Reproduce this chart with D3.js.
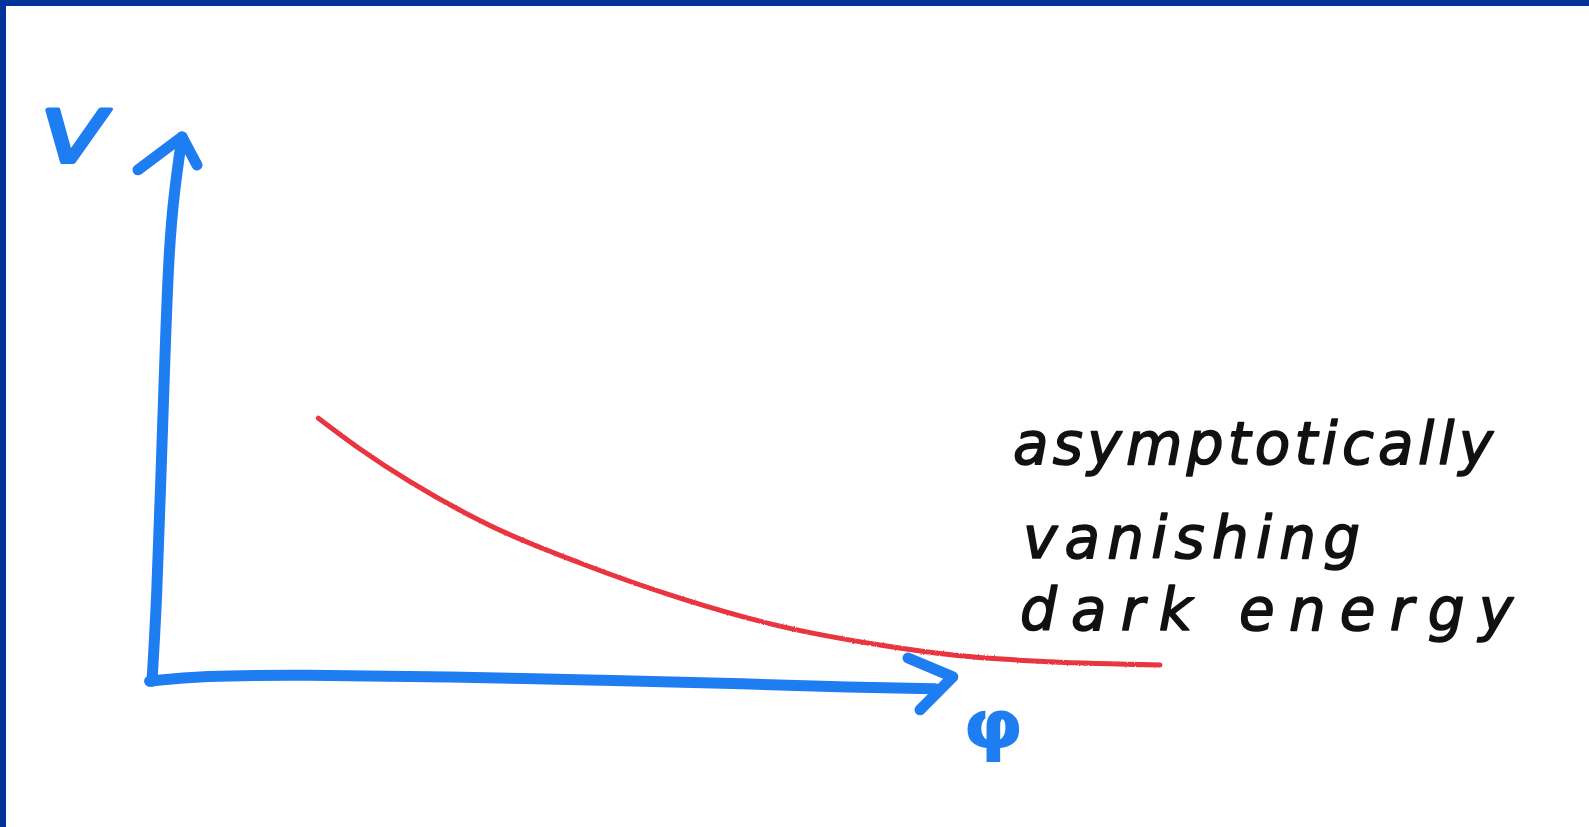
<!DOCTYPE html>
<html>
<head>
<meta charset="utf-8">
<script src="https://cdn.jsdelivr.net/npm/d3@7"></script>
<style>
  html, body { margin: 0; padding: 0; background: #ffffff; overflow: hidden; }
  svg { display: block; }
</style>
</head>
<body>
<div id="chart"></div>
<script>
// ---------------- data (in chart units: phi along x, V along y) ----------------
const curvePhi = [2.08, 2.6, 3.23, 4.23, 5.35, 6.6, 7.85, 9.1, 10.1, 11.23, 12.6];
const curveV   = [4.81, 4.24, 3.63, 2.82, 2.13, 1.48, 0.96, 0.61, 0.41, 0.3, 0.24];

const vAxisPhi = [0, 0.06, 0.11, 0.16, 0.21, 0.28, 0.375];
const vAxisV   = [-0.06, 1.44, 3.67, 5.89, 7.93, 9.04, 10.02];
const vArrowPhi = [-0.175, 0.375, 0.5625];
const vArrowV   = [9.41, 10.02, 9.5];

const hAxisPhi = [-0.03, 0.6, 1.85, 3.73, 5.6, 7.48, 8.73, 9.79];
const hAxisV   = [-0.06, 0.04, 0.06, 0.02, -0.04, -0.11, -0.17, -0.2];
const hArrowPhi = [9.45, 10.01, 9.6];
const hArrowV   = [0.37, 0.02, -0.59];

const yLabel = "V";
const xLabel = "φ";
const annotationLines = ["asymptotically", "vanishing", "dark energy"];

// ---------------- layout ----------------
const W = 1589, H = 827;
const svg = d3.select("#chart").append("svg").attr("width", W).attr("height", H);

svg.append("rect").attr("x", 0).attr("y", 0).attr("width", W).attr("height", H).attr("fill", "#ffffff");
// frame (top and left bars)
svg.append("rect").attr("x", 0).attr("y", 0).attr("width", W).attr("height", 6).attr("fill", "#003399");
svg.append("rect").attr("x", 0).attr("y", 0).attr("width", 6).attr("height", H).attr("fill", "#003399");

const x = d3.scaleLinear().domain([0, 10]).range([152, 952]);
const y = d3.scaleLinear().domain([0, 10]).range([678, 138]);

const zip = (a, b) => a.map((v, i) => [v, b[i]]);
const basis = d3.line().x(d => x(d[0])).y(d => y(d[1])).curve(d3.curveBasis);
const mono = d3.line().x(d => x(d[0])).y(d => y(d[1])).curve(d3.curveMonotoneX);
const straight = d3.line().x(d => x(d[0])).y(d => y(d[1]));

const blue = "#1f7df2";
const red = "#e8353f";

// crayon-like texture filter for red curve
const defs = svg.append("defs");
const f = defs.append("filter").attr("id", "crayon").attr("x", "-5%").attr("y", "-20%").attr("width", "110%").attr("height", "140%");
f.append("feTurbulence").attr("type", "fractalNoise").attr("baseFrequency", 0.9).attr("numOctaves", 1).attr("seed", 3).attr("result", "noise");
f.append("feDisplacementMap").attr("in", "SourceGraphic").attr("in2", "noise").attr("scale", 2.5);

// red curve
svg.append("path")
  .attr("d", mono(zip(curvePhi, curveV)))
  .attr("fill", "none")
  .attr("stroke", red)
  .attr("stroke-width", 5)
  .attr("stroke-linecap", "round")
  .attr("filter", "url(#crayon)");

// axes
const axisG = svg.append("g")
  .attr("fill", "none")
  .attr("stroke", blue)
  .attr("stroke-width", 11)
  .attr("stroke-linecap", "round")
  .attr("stroke-linejoin", "round");

axisG.append("path").attr("d", basis(zip(vAxisPhi, vAxisV)));
axisG.append("path").attr("d", straight(zip(vArrowPhi, vArrowV)));
axisG.append("path").attr("d", basis(zip(hAxisPhi, hAxisV)));
axisG.append("path").attr("d", straight(zip(hArrowPhi, hArrowV)));

// axis labels
svg.append("text")
  .attr("transform", "translate(68,162) skewX(-12) scale(1.3,1)")
  .attr("text-anchor", "middle")
  .attr("font-family", "DejaVu Sans")
  .attr("font-size", 72)
  .attr("fill", blue)
  .attr("stroke", blue)
  .attr("stroke-width", 4)
  .attr("stroke-linejoin", "round")
  .text(yLabel);

svg.append("text")
  .attr("transform", "translate(993,748) scale(1.15,1)")
  .attr("text-anchor", "middle")
  .attr("font-family", "DejaVu Sans")
  .attr("font-weight", "bold")
  .attr("font-size", 68)
  .attr("fill", blue)
  .text(xLabel);

// annotation
const annX = [1013, 1023, 1020];
const annY = [464, 558, 630];
const annW = [480, 337, 493];
svg.append("g")
  .selectAll("text")
  .data(annotationLines)
  .join("text")
  .attr("x", (d, i) => annX[i])
  .attr("y", (d, i) => annY[i])
  .attr("textLength", (d, i) => annW[i])
  .attr("lengthAdjust", "spacing")
  .attr("font-family", "DejaVu Sans")
  .attr("font-style", "italic")
  .attr("font-size", 58)
  .attr("fill", "#111111")
  .attr("stroke", "#111111")
  .attr("stroke-width", 1.6)
  .attr("stroke-linejoin", "round")
  .text(d => d);
</script>
</body>
</html>
